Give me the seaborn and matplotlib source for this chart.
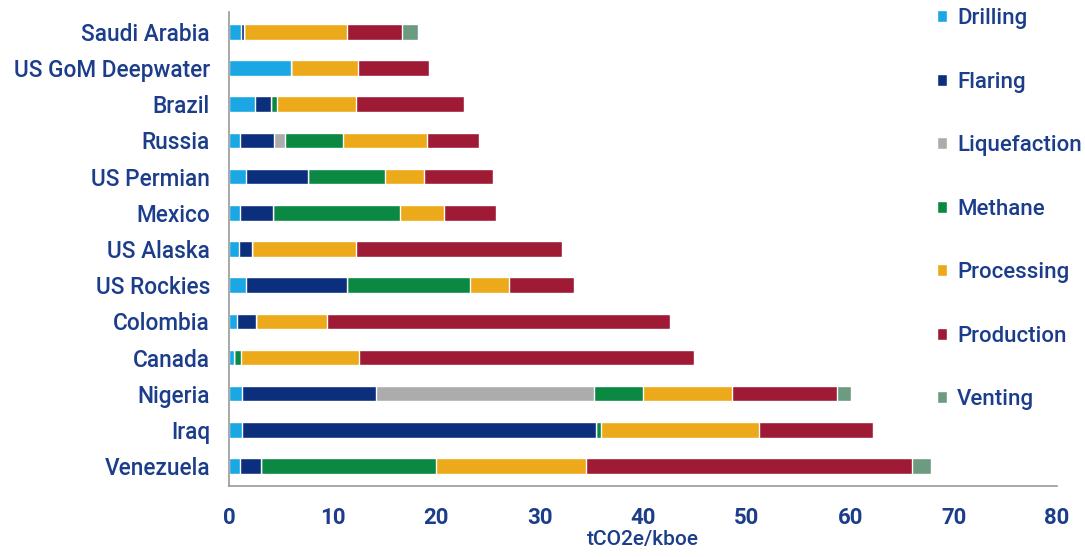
import numpy as np
import pandas as pd
import matplotlib.pyplot as plt
import seaborn as sns
from matplotlib.patches import Patch

# Categories (top to bottom) and emission components, tCO2e/kboe
countries = ["Saudi Arabia", "US GoM Deepwater", "Brazil", "Russia", "US Permian",
             "Mexico", "US Alaska", "US Rockies", "Colombia", "Canada",
             "Nigeria", "Iraq", "Venezuela"]
components = ["Drilling", "Flaring", "Liquefaction", "Methane",
              "Processing", "Production", "Venting"]

drilling     = [1.1, 5.95, 2.5, 1.0, 1.6, 1.0, 0.9, 1.55, 0.75, 0.4, 1.25, 1.2, 1.0]
flaring      = [0.3, 0.0, 1.5, 3.3, 6.0, 3.25, 1.3, 9.85, 1.8, 0.0, 12.9, 34.2, 2.0]
liquefaction = [0.0, 0.0, 0.0, 1.1, 0.0, 0.0, 0.0, 0.0, 0.0, 0.0, 21.05, 0.0, 0.0]
methane      = [0.0, 0.0, 0.6, 5.55, 7.45, 12.25, 0.0, 11.9, 0.0, 0.7, 4.75, 0.5, 17.0]
processing   = [10.0, 6.5, 7.65, 8.1, 3.75, 4.2, 10.0, 3.75, 6.85, 11.4, 8.6, 15.3, 14.5]
production   = [5.3, 6.85, 10.4, 5.1, 6.65, 5.1, 19.9, 6.25, 33.2, 32.4, 10.2, 11.0, 31.5]
venting      = [1.5, 0.0, 0.0, 0.0, 0.0, 0.0, 0.0, 0.0, 0.0, 0.1, 1.3, 0.0, 1.8]

colors = ["#1aa7e3", "#0c2f7d", "#acacac", "#0b8842",
          "#eca91a", "#9f1b35", "#6d9b7f"]
navy = "#1b3d8a"

df = pd.DataFrame({"country": countries, "Drilling": drilling, "Flaring": flaring,
                   "Liquefaction": liquefaction, "Methane": methane,
                   "Processing": processing, "Production": production,
                   "Venting": venting})
cum = df[components].cumsum(axis=1)

sns.set_theme(style="white")
plt.rcParams['font.family'] = ['Roboto', 'DejaVu Sans']

fig = plt.figure(figsize=(10.85, 5.57), dpi=100)
ax = fig.add_axes([0.2115, 0.1275, 0.7627, 0.851])

# stacked bars: draw cumulative totals from the outermost layer inward
for comp, col in reversed(list(zip(components, colors))):
    sns.barplot(x=cum[comp], y=df["country"], orient="h", color=col,
                width=0.43, saturation=1, ax=ax, order=countries)

ax.set_xlim(0, 80)
ax.set_ylim(12.55, -0.55)
ax.set_xticks(range(0, 81, 10))
ax.set_ylabel("")
ax.set_xlabel("tCO2e/kboe", color=navy, fontsize=15, fontweight="medium", labelpad=1)
ax.tick_params(axis="x", colors=navy, labelsize=16, length=0, pad=15)
ax.tick_params(axis="y", colors=navy, labelsize=16.3, length=0, pad=14)
for lab in ax.get_xticklabels():
    lab.set_fontweight("bold")
    lab.set_family(["Liberation Sans Narrow", "Roboto", "DejaVu Sans"])
for lab in ax.get_yticklabels():
    lab.set_fontweight("medium")

for s in ["top", "right"]:
    ax.spines[s].set_visible(False)
for s in ["left", "bottom"]:
    ax.spines[s].set_color("#9a9a9a")
    ax.spines[s].set_linewidth(1.2)

handles = [Patch(facecolor=c, label=n) for n, c in zip(components, colors)]
leg = fig.legend(handles=handles, loc="upper left", bbox_to_anchor=(0.8636, 0.985),
                 frameon=False, fontsize=16, labelspacing=1.91,
                 handlelength=0.45, handleheight=0.45, handletextpad=0.45,
                 borderaxespad=0, borderpad=0)
for t in leg.get_texts():
    t.set_color(navy)
    t.set_fontweight("medium")

fig.savefig("out.png", dpi=100)
